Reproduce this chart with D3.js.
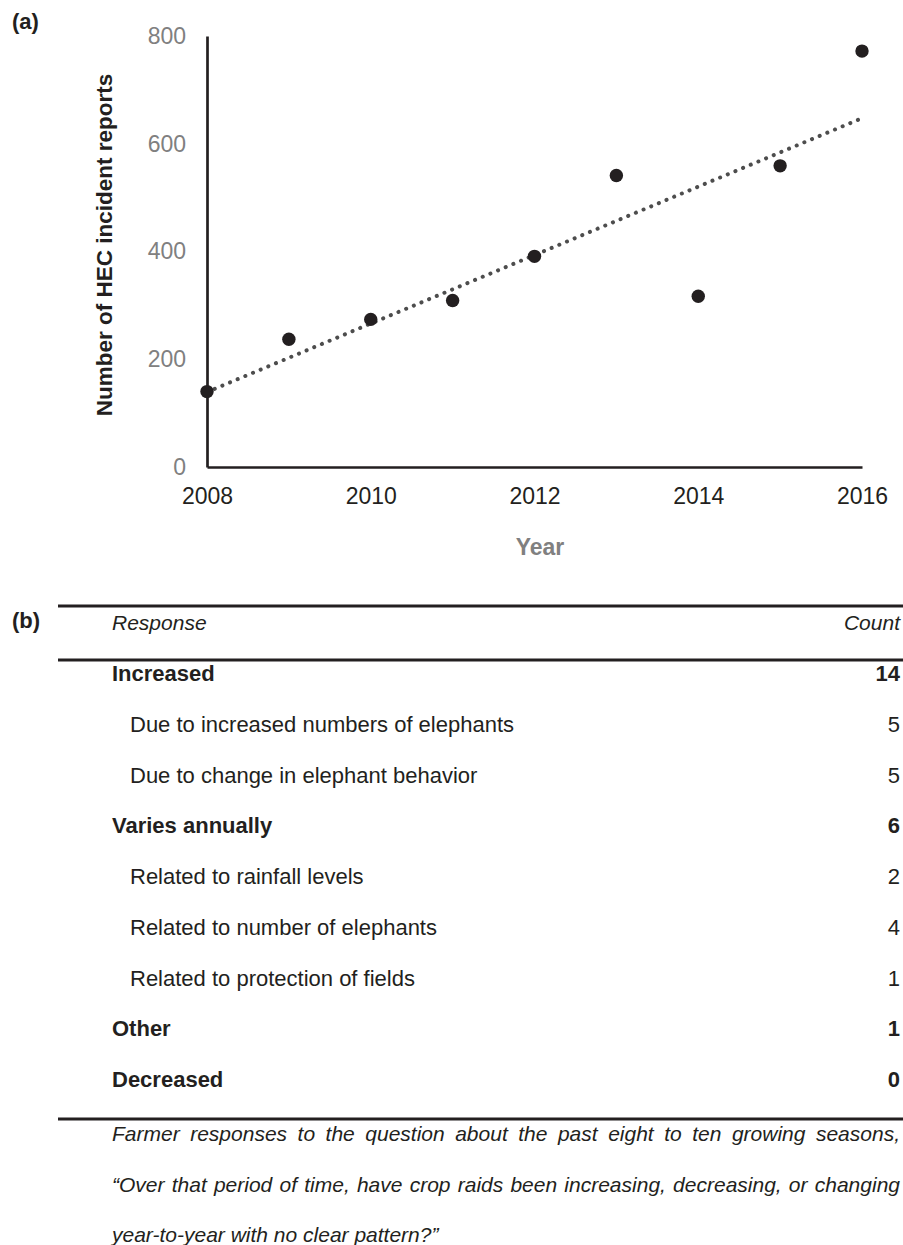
<!DOCTYPE html>
<html>
<head>
<meta charset="utf-8">
<script src="https://cdn.jsdelivr.net/npm/d3@7"></script>
<style>
  html, body { margin: 0; padding: 0; background: #fff; }
  svg { display: block; }
  text { font-family: "Liberation Sans", Arial, sans-serif; }
</style>
</head>
<body>
<svg id="fig" width="903" height="1245"></svg>
<script>
// Panel (a): annual HEC incident reports
const years = [2008, 2009, 2010, 2011, 2012, 2013, 2014, 2015, 2016];
const reports = [140, 237, 274, 309, 391, 541, 317, 559, 772];
const yTicks = [0, 200, 400, 600, 800];
const xTicks = [2008, 2010, 2012, 2014, 2016];

// Panel (b): farmer responses
const responses = [
  "Increased",
  "Due to increased numbers of elephants",
  "Due to change in elephant behavior",
  "Varies annually",
  "Related to rainfall levels",
  "Related to number of elephants",
  "Related to protection of fields",
  "Other",
  "Decreased"
];
const counts = [14, 5, 5, 6, 2, 4, 1, 1, 0];
const isHeading = [true, false, false, true, false, false, false, true, true];
const captionLines = [
  "Farmer responses to the question about the past eight to ten growing seasons,",
  "\u201cOver that period of time, have crop raids been increasing, decreasing, or changing",
  "year-to-year with no clear pattern?\u201d"
];

const svg = d3.select("#fig");
const ink = "#231f20";
const grey = "#808080";

// ---------- Panel (a) ----------
const x = d3.scaleLinear().domain([2008, 2016]).range([207, 862]);
const y = d3.scaleLinear().domain([0, 800]).range([467, 36]);

svg.append("text").attr("x", 12).attr("y", 29)
  .attr("font-size", 22).attr("font-weight", "bold").attr("fill", ink).text("(a)");

// y axis
const yAxis = svg.append("g").attr("transform", `translate(${x(2008)},0)`)
  .call(d3.axisLeft(y).tickValues(yTicks).tickSize(0).tickPadding(21).tickFormat(d3.format("d")));
yAxis.select(".domain").attr("stroke", ink).attr("stroke-width", 2.7);
yAxis.selectAll("text").attr("font-size", 23).attr("fill", grey)
  .attr("font-family", "Liberation Sans, Arial, sans-serif");

// x axis
const xAxis = svg.append("g").attr("transform", `translate(0,${y(0)})`)
  .call(d3.axisBottom(x).tickValues(xTicks).tickSize(0).tickPadding(21).tickFormat(d3.format("d")));
xAxis.select(".domain").attr("stroke", ink).attr("stroke-width", 2.7);
xAxis.selectAll("text").attr("font-size", 23).attr("fill", ink)
  .attr("font-family", "Liberation Sans, Arial, sans-serif");

// axis titles
svg.append("text")
  .attr("transform", `translate(112,245) rotate(-90)`)
  .attr("text-anchor", "middle").attr("font-size", 22.5).attr("font-weight", "bold")
  .attr("fill", ink).text("Number of HEC incident reports");
svg.append("text").attr("x", 540).attr("y", 555)
  .attr("text-anchor", "middle").attr("font-size", 23).attr("font-weight", "bold")
  .attr("fill", grey).text("Year");

// least-squares trend line
const n = years.length;
const mx = d3.mean(years), my = d3.mean(reports);
const slope = d3.sum(years, (v, i) => (v - mx) * (reports[i] - my)) / d3.sum(years, v => (v - mx) ** 2);
const icpt = my - slope * mx;
const ends = [years[0], years[n - 1]];
svg.append("line")
  .attr("x1", x(ends[0])).attr("y1", y(icpt + slope * ends[0]))
  .attr("x2", x(ends[1])).attr("y2", y(icpt + slope * ends[1]))
  .attr("stroke", "#4d4d4d").attr("stroke-width", 4)
  .attr("stroke-linecap", "round").attr("stroke-dasharray", "0.1 8.2");

// points
svg.append("g").selectAll("circle").data(years).join("circle")
  .attr("cx", d => x(d)).attr("cy", (d, i) => y(reports[i]))
  .attr("r", 6.7).attr("fill", ink);

// ---------- Panel (b) ----------
svg.append("text").attr("x", 12).attr("y", 628)
  .attr("font-size", 22).attr("font-weight", "bold").attr("fill", ink).text("(b)");

const tLeft = 58, tRight = 903, textL = 112, subL = 130, textR = 900;
const rule = yy => svg.append("line").attr("x1", tLeft).attr("x2", tRight)
  .attr("y1", yy).attr("y2", yy).attr("stroke", ink).attr("stroke-width", 3);
rule(606); rule(660); rule(1119);

svg.append("text").attr("x", textL).attr("y", 630)
  .attr("font-size", 21).attr("font-style", "italic").attr("fill", ink).text("Response");
svg.append("text").attr("x", textR).attr("y", 630)
  .attr("text-anchor", "end").attr("font-size", 21).attr("font-style", "italic")
  .attr("fill", ink).text("Count");

const rowY = d3.scalePoint().domain(d3.range(responses.length)).range([681, 1087]);
const rows = svg.append("g").selectAll("g").data(responses).join("g")
  .attr("transform", (d, i) => `translate(0,${rowY(i)})`);
rows.append("text")
  .attr("x", (d, i) => isHeading[i] ? textL : subL)
  .attr("font-size", 22)
  .attr("font-weight", (d, i) => isHeading[i] ? "bold" : "normal")
  .attr("fill", ink).text(d => d);
rows.append("text")
  .attr("x", textR).attr("text-anchor", "end")
  .attr("font-size", 22)
  .attr("font-weight", (d, i) => isHeading[i] ? "bold" : "normal")
  .attr("fill", ink).text((d, i) => counts[i]);

// caption, justified on all but the last line
const capY = d3.scalePoint().domain(d3.range(captionLines.length)).range([1141, 1242]);
captionLines.forEach((line, i) => {
  const t = svg.append("text").attr("x", textL).attr("y", capY(i))
    .attr("font-size", 21).attr("font-style", "italic").attr("fill", ink).text(line);
  if (i < captionLines.length - 1) {
    const words = line.split(" ");
    const w = t.node().getComputedTextLength();
    t.attr("word-spacing", (textR - textL - w) / (words.length - 1));
  }
});
</script>
</body>
</html>
